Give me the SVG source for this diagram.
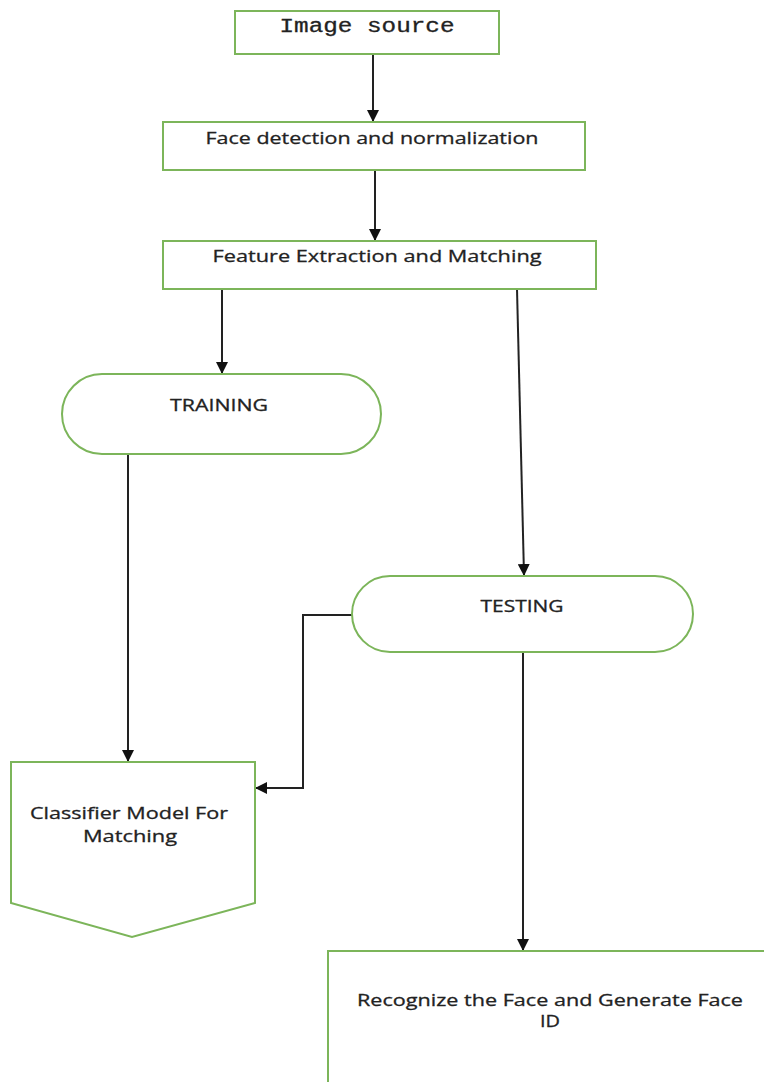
<svg xmlns="http://www.w3.org/2000/svg" width="764" height="1082" viewBox="0 0 764 1082">
<defs>
<marker id="arr" markerUnits="userSpaceOnUse" markerWidth="12" markerHeight="12" viewBox="0 0 12 12" refX="11" refY="6" orient="auto">
<path d="M0,0 L12,6 L0,12 z" fill="#111"/>
</marker>
<style>
.node{fill:#fff;stroke:#7cb55a;stroke-width:2}
.edge{fill:none;stroke:#222;stroke-width:2}
.t{font-family:"Open Sans","Liberation Sans",sans-serif;font-size:17px;fill:#222;stroke:#222;stroke-width:0.3;text-anchor:middle}
.m{font-family:"Liberation Mono","Courier New",monospace;font-size:20px;fill:#222;stroke:#222;stroke-width:0.3;text-anchor:middle}
</style>
</defs>
<rect width="764" height="1082" fill="#fff"/>
<g id="connectors">
<line class="edge" x1="373" y1="54" x2="373" y2="121" marker-end="url(#arr)"/>
<line class="edge" x1="375" y1="170" x2="375" y2="240" marker-end="url(#arr)"/>
<line class="edge" x1="222" y1="289" x2="222" y2="373" marker-end="url(#arr)"/>
<line class="edge" x1="517" y1="289" x2="524" y2="575" marker-end="url(#arr)"/>
<line class="edge" x1="128" y1="454" x2="128" y2="761" marker-end="url(#arr)"/>
<polyline class="edge" points="352,615 303,615 303,788 256,788" marker-end="url(#arr)"/>
<line class="edge" x1="523" y1="652" x2="523" y2="950" marker-end="url(#arr)"/>
</g>
<g id="image-source">
<rect class="node" x="235" y="11" width="264" height="43"/>
<text class="m" x="367" y="32" textLength="175" lengthAdjust="spacingAndGlyphs">Image source</text>
</g>
<g id="face-detection">
<rect class="node" x="163" y="122" width="422" height="48"/>
<text class="t" x="372" y="144" textLength="333" lengthAdjust="spacingAndGlyphs">Face detection and normalization</text>
</g>
<g id="feature-extraction">
<rect class="node" x="163" y="241" width="433" height="48"/>
<text class="t" x="377" y="262" textLength="329" lengthAdjust="spacingAndGlyphs">Feature Extraction and Matching</text>
</g>
<g id="training">
<rect class="node" x="62" y="374" width="319" height="80" rx="40" ry="40"/>
<text class="t" x="219" y="411" textLength="98" lengthAdjust="spacingAndGlyphs">TRAINING</text>
</g>
<g id="testing">
<rect class="node" x="352" y="576" width="341" height="76" rx="38" ry="38"/>
<text class="t" x="522" y="612" textLength="83" lengthAdjust="spacingAndGlyphs">TESTING</text>
</g>
<g id="classifier">
<polygon class="node" points="11,762 255,762 255,903 132,937 11,903"/>
<text class="t" x="129" y="819" textLength="198" lengthAdjust="spacingAndGlyphs">Classifier Model For</text>
<text class="t" x="130" y="842" textLength="94" lengthAdjust="spacingAndGlyphs">Matching</text>
</g>
<g id="recognize">
<rect class="node" x="328" y="951" width="450" height="150"/>
<text class="t" x="550" y="1006" textLength="386" lengthAdjust="spacingAndGlyphs">Recognize the Face and Generate Face</text>
<text class="t" x="550" y="1027" textLength="20" lengthAdjust="spacingAndGlyphs">ID</text>
</g>
</svg>
